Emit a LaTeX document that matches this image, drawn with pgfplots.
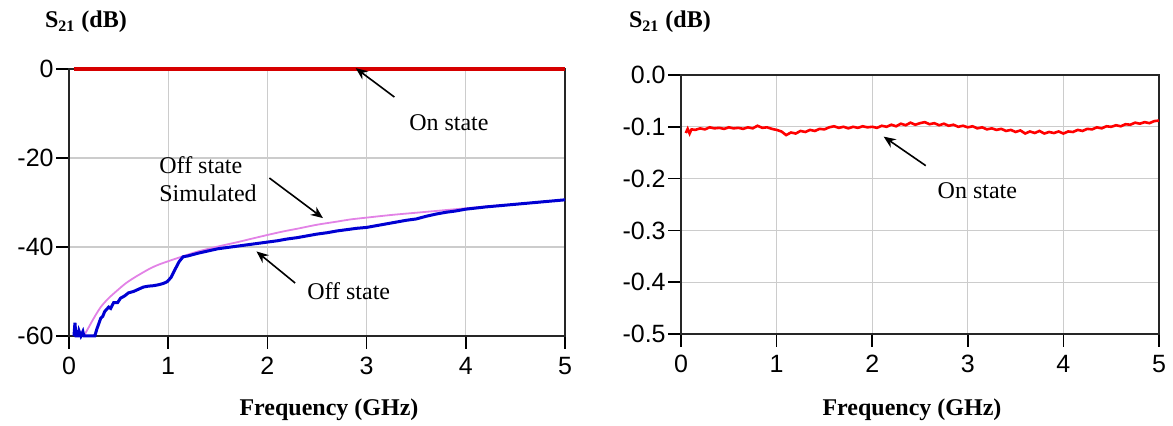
\documentclass[border=0pt]{standalone}
\usepackage{fontspec}
\setmainfont{Liberation Serif}
\setsansfont{Liberation Sans}
\usepackage{pgfplots}
\pgfplotsset{compat=1.18}
\usetikzlibrary{arrows.meta}
\definecolor{onred}{RGB}{214,0,0}
\definecolor{offblue}{RGB}{0,0,210}
\definecolor{simpink}{RGB}{226,130,230}
\tikzset{
  annot/.style={font=\fontsize{12}{13.8}\selectfont},
  arr/.style={-{Stealth[length=6pt,width=5pt]}, line width=0.8pt, black},
}
\pgfplotsset{
  myaxis/.style={
    scale only axis, anchor=south west,
    xmin=0, xmax=5,
    xtick={0,1,2,3,4,5}, xticklabels={0,1,2,3,4,5},
    grid=major, grid style={black!20, line width=0.6pt},
    axis line style={black!85, line width=0.8pt},
    tick align=outside, tick pos=left,
    major tick length=6.5pt, tick style={black, line width=0.8pt},
    xticklabel style={font=\fontsize{12.5}{14}\selectfont\sffamily, inner sep=0pt, yshift=-4pt, anchor=north},
    yticklabel style={font=\fontsize{12.5}{14}\selectfont\sffamily, inner sep=0pt, anchor=east, xshift=-1pt},
    clip=false,
  },
}
\begin{document}
\begin{tikzpicture}
\useasboundingbox (0,0) rectangle (586.5pt,213pt);
\begin{axis}[myaxis,
  at={(34.5pt,45pt)}, width=248pt, height=133.5pt,
  ymin=-60, ymax=0,
  ytick={-60,-40,-20,0}, yticklabels={-60,-40,-20,0},
]
\addplot[onred, line width=2pt] coordinates {(0.05,0) (5,0)};
\addplot[simpink, line width=0.9pt, smooth] coordinates {
(0.15,-60)(0.2,-58)(0.25,-56)(0.32,-53.5)(0.4,-51.5)(0.49,-49.7)(0.57,-48.2)(0.65,-47)(0.74,-45.8)(0.82,-44.8)(0.9,-44)(1.0,-43.2)(1.16,-42)(1.3,-41)(1.5,-39.9)(1.7,-38.9)(1.83,-38.2)(2.0,-37.3)(2.16,-36.5)(2.3,-35.9)(2.5,-35)(2.7,-34.3)(2.84,-33.8)(3.0,-33.4)(3.25,-32.8)(3.5,-32.3)(3.75,-31.8)(4.0,-31.3)(4.25,-30.8)(4.5,-30.4)(4.75,-29.9)(5.0,-29.4)};
\addplot[offblue, line width=1.5pt] coordinates {
(0.05,-60)(0.06,-57)(0.07,-60)(0.09,-60)(0.10,-58.8)(0.12,-60)(0.14,-59)(0.15,-60)(0.26,-60)(0.28,-58.5)(0.32,-56)(0.34,-55.6)(0.36,-54.5)(0.40,-53.5)(0.42,-53.8)(0.45,-52.5)(0.49,-52.5)(0.52,-51.5)(0.56,-51)(0.60,-50.3)(0.65,-50)(0.70,-49.5)(0.75,-49)(0.80,-48.8)(0.85,-48.7)(0.90,-48.5)(0.95,-48.2)(0.99,-47.8)(1.03,-46.8)(1.07,-45)(1.11,-43.3)(1.15,-42.2)(1.20,-42)(1.30,-41.4)(1.40,-40.9)(1.50,-40.4)(1.60,-40.1)(1.70,-39.8)(1.80,-39.5)(1.90,-39.2)(2.00,-38.9)(2.10,-38.6)(2.20,-38.2)(2.30,-37.9)(2.40,-37.5)(2.50,-37.1)(2.60,-36.8)(2.70,-36.4)(2.80,-36.1)(2.90,-35.8)(3.00,-35.6)(3.10,-35.2)(3.20,-34.8)(3.30,-34.4)(3.40,-34.0)(3.50,-33.7)(3.60,-33.1)(3.70,-32.6)(3.80,-32.2)(3.90,-31.9)(4.00,-31.5)(4.20,-31.0)(4.40,-30.6)(4.60,-30.2)(4.80,-29.8)(5.00,-29.4)};
\node[annot] at (axis cs:3.83,-12.1) {On state};
\draw[arr] (axis cs:3.28,-6.3) -- (axis cs:2.89,0.2);
\node[annot, anchor=west, align=left] at (axis cs:0.84,-24.7) {Off state\\Simulated};
\draw[arr] (axis cs:2.02,-24.5) -- (axis cs:2.56,-33.5);
\node[annot] at (axis cs:2.82,-50) {Off state};
\draw[arr] (axis cs:2.28,-48.1) -- (axis cs:1.89,-41);
\end{axis}
\begin{axis}[myaxis,
  at={(340.5pt,46pt)}, width=239pt, height=129.5pt,
  ymin=-0.5, ymax=0,
  ytick={-0.5,-0.4,-0.3,-0.2,-0.1,0}, yticklabels={-0.5,-0.4,-0.3,-0.2,-0.1,0.0},
]
\addplot[red, line width=1.3pt] coordinates {
(0.05,-0.112)(0.07,-0.104)(0.09,-0.113)(0.11,-0.105)(0.15,-0.106)(0.20,-0.103)(0.25,-0.105)(0.30,-0.101)(0.35,-0.103)(0.40,-0.102)(0.45,-0.104)(0.50,-0.101)(0.55,-0.103)(0.60,-0.102)(0.65,-0.104)(0.70,-0.101)(0.75,-0.103)(0.80,-0.098)(0.85,-0.102)(0.90,-0.101)(0.95,-0.104)(1.00,-0.106)(1.05,-0.109)(1.10,-0.116)(1.15,-0.111)(1.20,-0.113)(1.25,-0.108)(1.30,-0.110)(1.35,-0.106)(1.40,-0.108)(1.45,-0.104)(1.50,-0.105)(1.55,-0.101)(1.60,-0.099)(1.65,-0.102)(1.70,-0.100)(1.75,-0.103)(1.80,-0.100)(1.85,-0.102)(1.90,-0.099)(1.95,-0.101)(2.00,-0.100)(2.05,-0.102)(2.10,-0.098)(2.15,-0.100)(2.20,-0.096)(2.25,-0.099)(2.30,-0.094)(2.35,-0.097)(2.40,-0.092)(2.45,-0.096)(2.50,-0.093)(2.55,-0.091)(2.60,-0.095)(2.65,-0.093)(2.70,-0.097)(2.75,-0.094)(2.80,-0.098)(2.85,-0.096)(2.90,-0.100)(2.95,-0.098)(3.00,-0.101)(3.05,-0.099)(3.10,-0.103)(3.15,-0.101)(3.20,-0.105)(3.25,-0.103)(3.30,-0.106)(3.35,-0.104)(3.40,-0.108)(3.45,-0.106)(3.50,-0.110)(3.55,-0.107)(3.60,-0.113)(3.65,-0.109)(3.70,-0.112)(3.75,-0.108)(3.80,-0.113)(3.85,-0.110)(3.90,-0.112)(3.95,-0.109)(4.00,-0.113)(4.05,-0.109)(4.10,-0.110)(4.15,-0.106)(4.20,-0.108)(4.25,-0.104)(4.30,-0.105)(4.35,-0.101)(4.40,-0.103)(4.45,-0.099)(4.50,-0.100)(4.55,-0.097)(4.60,-0.099)(4.65,-0.095)(4.70,-0.096)(4.75,-0.092)(4.80,-0.094)(4.85,-0.091)(4.90,-0.093)(4.95,-0.089)(5.00,-0.088)};
\node[annot] at (axis cs:3.1,-0.224) {On state};
\draw[arr] (axis cs:2.56,-0.175) -- (axis cs:2.12,-0.119);
\end{axis}
\node[anchor=west, font=\fontsize{12}{14}\selectfont\bfseries] at (19pt,202pt) {S\textsubscript{21} (dB)};
\node[anchor=west, font=\fontsize{12}{14}\selectfont\bfseries] at (311pt,202pt) {S\textsubscript{21} (dB)};
\node[font=\fontsize{12}{14}\selectfont\bfseries] at (164.5pt,8pt) {Frequency (GHz)};
\node[font=\fontsize{12}{14}\selectfont\bfseries] at (456pt,8pt) {Frequency (GHz)};
\end{tikzpicture}
\end{document}
